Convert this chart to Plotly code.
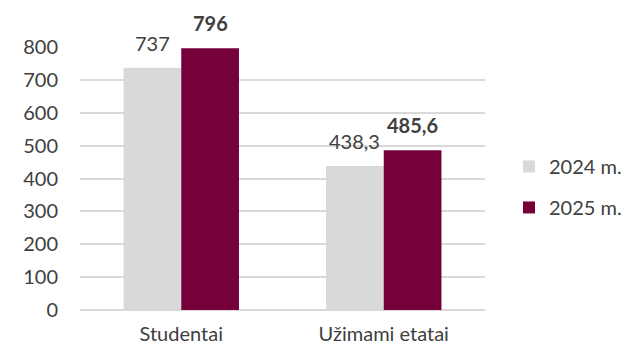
import plotly.graph_objects as go

categories = ["Studentai", "Užimami etatai"]
series_names = ["2024 m.", "2025 m."]
values_2024 = [737, 438.3]
values_2025 = [796, 485.6]
labels_2024 = ["737", "438,3"]
labels_2025 = ["796", "485,6"]
y_ticks = [0, 100, 200, 300, 400, 500, 600, 700, 800]

FONT = "Lato, 'Open Sans', sans-serif"
TEXT = "#404040"
GRAY = "#D9D9D9"
MAROON = "#75003A"

PLOT_L, PLOT_R = 80, 155
PLOT_W = 640 - PLOT_L - PLOT_R
BARGAP = 0.43
# horizontal offset of each bar centre from its category centre, in px
bar_w = PLOT_W / len(categories) * (1 - BARGAP) / 2
offsets = [-bar_w / 2, bar_w / 2]

fig = go.Figure()
fig.add_trace(go.Bar(
    x=categories, y=values_2024, name=series_names[0],
    marker=dict(color=GRAY, line=dict(width=0)),
    legendgroup="a",
))
fig.add_trace(go.Bar(
    x=categories, y=values_2025, name=series_names[1],
    marker=dict(color=MAROON, line=dict(width=0)),
    legendgroup="b",
))

# value labels above each bar
annotations = []
for vals, labs, off, bold in [(values_2024, labels_2024, offsets[0], False),
                              (values_2025, labels_2025, offsets[1], True)]:
    for cat, v, lab in zip(categories, vals, labs):
        annotations.append(dict(
            x=cat, y=v, xref="x", yref="y",
            text=f"<b>{lab}</b>" if bold else lab,
            showarrow=False, xanchor="center", yanchor="bottom",
            xshift=off, yshift=11,
            font=dict(family=FONT, size=20, color=TEXT),
        ))

fig.update_layout(
    width=640, height=352,
    margin=dict(l=PLOT_L, r=PLOT_R, t=47, b=42),
    paper_bgcolor="white", plot_bgcolor="white",
    barmode="group", bargap=BARGAP, bargroupgap=0,
    font=dict(family=FONT, color=TEXT, size=20),
    legend=dict(x=1 + 24 / PLOT_W, y=0.62, xanchor="left", yanchor="top",
                xref="paper", font=dict(size=20, color=TEXT),
                tracegroupgap=12, itemwidth=30),
    showlegend=True,
    annotations=annotations,
    xaxis=dict(showline=False, ticks="", tickfont=dict(size=20, color=TEXT),
               ticklabelstandoff=10, automargin=False),
    yaxis=dict(range=[0, 800], tickvals=y_ticks, showgrid=True,
               gridcolor=GRAY, gridwidth=1.5, zeroline=True,
               zerolinecolor=GRAY, zerolinewidth=1.5, automargin=False,
               tickfont=dict(size=20, color=TEXT), ticklabelstandoff=21),
)

fig.write_html("out.html")
